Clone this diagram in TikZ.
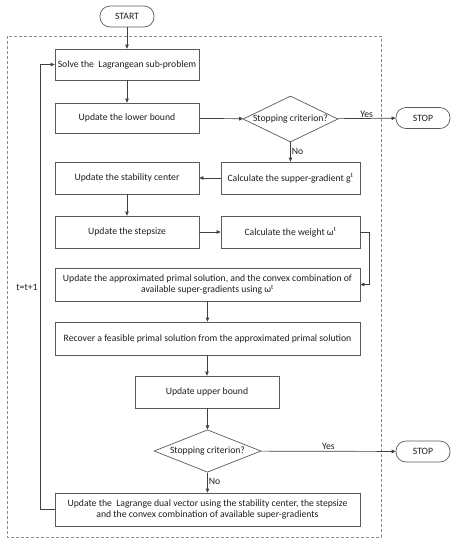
\documentclass[tikz,border=0pt]{standalone}
\usepackage{fontspec}
\setmainfont{Carlito}
\usetikzlibrary{shapes.geometric,arrows.meta}
\definecolor{boxline}{HTML}{5A5A5A}
\definecolor{conn}{HTML}{404040}
\definecolor{txt}{HTML}{1E1E1E}
\definecolor{dashgray}{HTML}{8A8A8A}
\begin{document}
\begin{tikzpicture}[x=1pt,y=-1pt,
  every node/.style={font=\fontsize{9.7}{11.6}\selectfont, text=txt},
  proc/.style={draw=boxline, line width=0.7pt, rectangle, inner sep=1pt, align=center},
  term/.style={draw=boxline, line width=0.7pt, rounded corners=10pt, minimum width=54pt, minimum height=21pt, inner sep=1pt},
  dec/.style={draw=boxline, line width=0.7pt, diamond, aspect=2.2, inner sep=0pt},
  conn/.style={draw=conn, line width=0.7pt, -{Triangle[length=4pt,width=3.5pt]}},
  lbl/.style={inner sep=1pt}
]
\useasboundingbox (0,0) rectangle (457,550);
\draw[draw=dashgray, line width=0.7pt, dash pattern=on 3pt off 2pt] (7,36) rectangle (381,537);

\node[term] (start) at (127,16.5) {START};
\node[proc, minimum width=144pt, minimum height=31pt] (solve) at (127,64.5) {Solve the\ \ Lagrangean sub-problem};
\node[proc, minimum width=144pt, minimum height=30pt] (lower) at (127,118) {Update the lower bound};
\node[dec, minimum width=95pt, minimum height=46pt] (d1) at (290.5,119) {Stopping criterion?};
\node[term] (stop1) at (423,118) {STOP};
\node[proc, minimum width=139pt, minimum height=32pt] (calc) at (290.5,178) {Calculate the supper-gradient g\textsuperscript{t}};
\node[proc, minimum width=144pt, minimum height=32pt] (stab) at (127,178) {Update the stability center};
\node[proc, minimum width=144pt, minimum height=32pt] (step) at (127,232) {Update the stepsize};
\node[proc, minimum width=139pt, minimum height=32pt] (weight) at (290.5,232) {Calculate the weight ω\textsuperscript{t}};
\node[proc, minimum width=305pt, minimum height=33pt] (approx) at (207.5,284.5) {Update the approximated primal solution, and the convex combination of\\available super-gradients using ω\textsuperscript{t}};
\node[proc, minimum width=305pt, minimum height=33pt] (recover) at (207.5,338.5) {Recover a feasible primal solution from the approximated primal solution};
\node[proc, minimum width=144pt, minimum height=32pt] (upper) at (207,392) {Update upper bound};
\node[dec, minimum width=107pt, minimum height=42pt] (d2) at (207.5,451) {Stopping criterion?};
\node[term] (stop2) at (423,451.5) {STOP};
\node[proc, minimum width=305pt, minimum height=33pt] (final) at (207.5,509.5) {Update the\ \ Lagrange dual vector using the stability center, the stepsize\\and the convex combination of available super-gradients};

\coordinate (loopB) at (40,509.5);
\coordinate (loopT) at (40,64.5);
\coordinate (wR) at (369,232);
\coordinate (wB) at (369,284.5);

\draw[conn] (start) -- (solve);
\draw[conn] (solve) -- (lower);
\draw[conn] (lower) -- (d1);
\draw[conn] (d1) -- node[lbl, above, pos=0.5] {Yes} (stop1);
\draw[conn] (d1) -- node[lbl, right, pos=0.45] {No} (calc);
\draw[conn] (calc) -- (stab);
\draw[conn] (stab) -- (step);
\draw[conn] (step) -- (weight);
\draw[conn] (weight.east) -- (wR) -- (wB) -- (approx.east);
\draw[conn] (approx) -- (recover);
\draw[conn] (recover.south -| upper) -- (upper);
\draw[conn] (upper.south -| d2) -- (d2);
\draw[conn] (d2) -- node[lbl, above, pos=0.5] {Yes} (stop2);
\draw[conn] (d2) -- node[lbl, right, pos=0.45] {No} (final);
\draw[conn] (final.west) -- (loopB) -- (loopT) -- (solve.west);
\node[lbl] (tt) at (27,287) {t=t+1};
\end{tikzpicture}
\end{document}
